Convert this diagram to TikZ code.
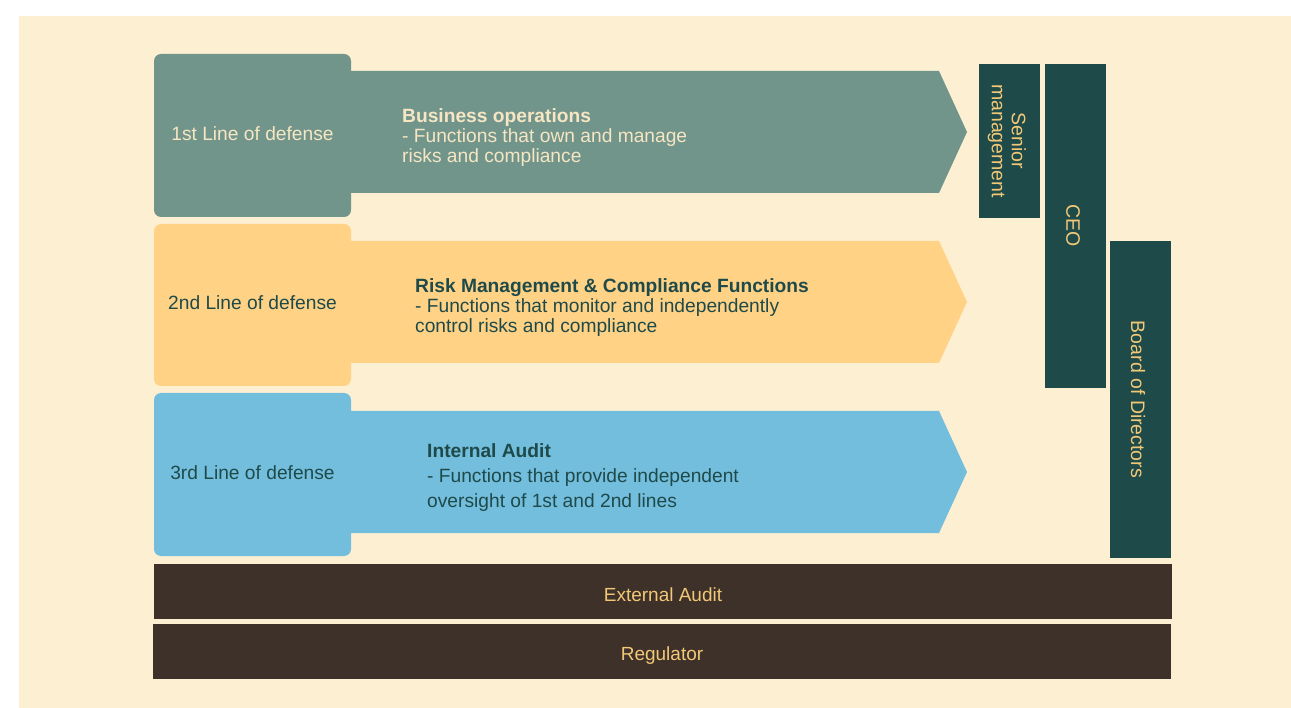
\documentclass[tikz,border=0pt]{standalone}
\usepackage{fontspec}
\setmainfont{Liberation Sans}
\newfontfamily\arialf{Liberation Sans}
\definecolor{bgcream}{HTML}{FDEFD2}
\definecolor{sage}{HTML}{71958A}
\definecolor{sun}{HTML}{FFD285}
\definecolor{sky}{HTML}{74BEDD}
\definecolor{deepteal}{HTML}{1E4A4A}
\definecolor{cocoa}{HTML}{3E312A}
\definecolor{lighttxt}{HTML}{F6E6C4}
\definecolor{goldtxt}{HTML}{F2C877}
\tikzset{
  x=1pt,y=-1pt,
  linebox/.style={rounded corners=7pt},
  lbl/.style={font=\fontsize{19.2}{20}\selectfont},
  desc/.style={font=\fontsize{19.2}{20}\selectfont, align=left, anchor=west, inner sep=0pt},
  vbar/.style={fill=deepteal},
  vtxt/.style={font=\arialf\fontsize{19.5}{20}\selectfont, text=goldtxt, rotate=-90, align=center},
  hbar/.style={fill=cocoa},
  htxt/.style={font=\fontsize{19}{20}\selectfont, text=goldtxt}
}
\begin{document}
\begin{tikzpicture}
\useasboundingbox (0,0) rectangle (1291,708);
\fill[white] (0,0) rectangle (1291,708);
\fill[bgcream] (19,16) rectangle (1291,708);

% arrows
\fill[sage] (340,71) -- (939,71) -- (967,132) -- (939,193) -- (340,193) -- cycle;
\fill[sun] (340,241) -- (939,241) -- (967,302) -- (939,363) -- (340,363) -- cycle;
\fill[sky] (340,411) -- (939,411) -- (967,472) -- (939,533) -- (340,533) -- cycle;

% line boxes
\fill[sage,linebox] (154,54) rectangle (351,217);
\node[lbl,text=lighttxt] (l1) at (252.5,134) {1st Line of defense};
\fill[sun,linebox] (154,224) rectangle (351,386);
\node[lbl,text=deepteal] (l2) at (252.5,303) {2nd Line of defense};
\fill[sky,linebox] (154,393) rectangle (351,556);
\node[lbl,text=deepteal] (l3) at (252.5,473) {3rd Line of defense};

% descriptions
\node[desc,text=lighttxt] (d1) at (402,138) {\textbf{Business operations}\\- Functions that own and manage\\risks and compliance};
\node[desc,text=deepteal] (d2) at (415,307.5) {\textbf{Risk Management \& Compliance Functions}\\- Functions that monitor and independently\\control risks and compliance};
\node[desc,text=deepteal,font=\fontsize{19.2}{25}\selectfont] (d3) at (427,477.5) {\textbf{Internal Audit}\\- Functions that provide independent\\oversight of 1st and 2nd lines};

% vertical bars
\fill[vbar] (979,64) rectangle (1040,218);
\node[vtxt] (sm) at (1007,141) {Senior\\management};
\fill[vbar] (1045,64) rectangle (1106,388);
\node[vtxt] (ceo) at (1073,226) {CEO};
\fill[vbar] (1110,241) rectangle (1171,558);
\node[vtxt] (bod) at (1138,399.5) {Board of Directors};

% horizontal bars
\fill[hbar] (154,564) rectangle (1172,619);
\node[htxt] (ea) at (663,595) {External Audit};
\fill[hbar] (153,624) rectangle (1171,679);
\node[htxt] (reg) at (662,656) {Regulator};
\end{tikzpicture}
\end{document}
